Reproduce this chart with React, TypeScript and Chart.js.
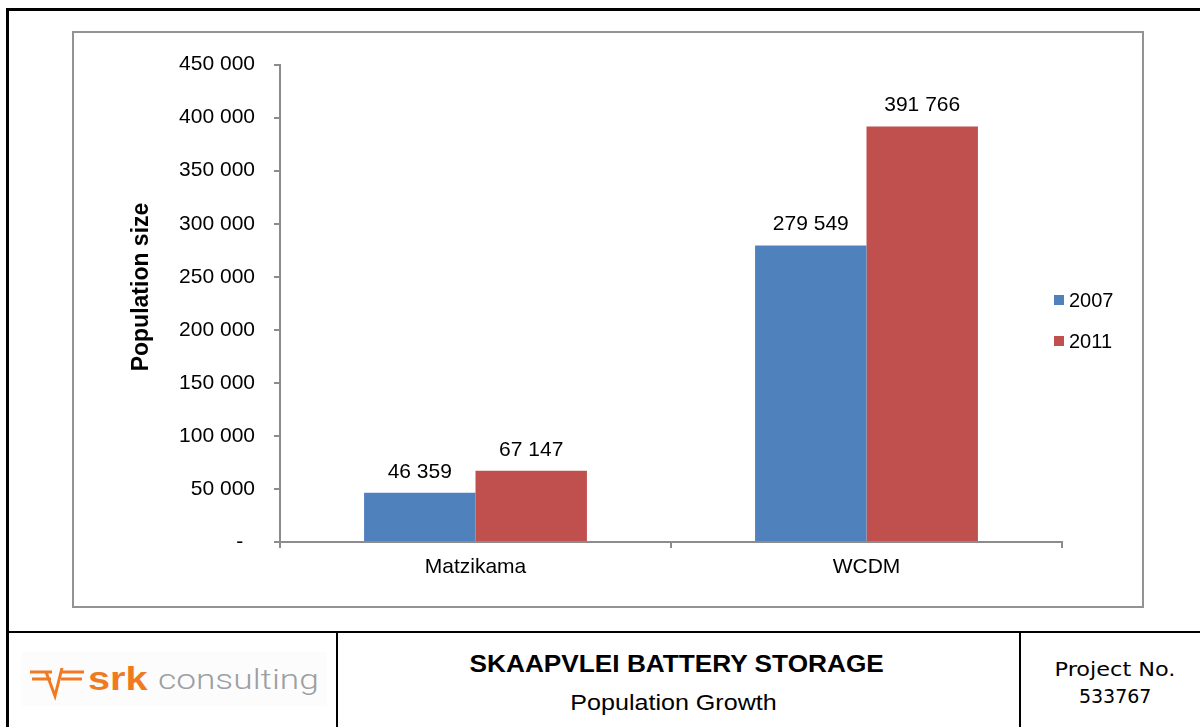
import React, { useEffect, useRef } from 'react';
import { Chart, registerables } from 'chart.js';

Chart.register(...registerables);

// ---- Data ----
const categories = ['Matzikama', 'WCDM'];
const seriesNames = ['2007', '2011'];
const values2007 = [46359, 279549];
const values2011 = [67147, 391766];
const seriesColors = ['#4f81bd', '#c0504d'];
const yMin = 0;
const yMax = 450000;
const yStep = 50000;
const yAxisTitle = 'Population size';
const footerTitle = 'SKAAPVLEI BATTERY STORAGE';
const footerSubtitle = 'Population Growth';
const projectLabel = 'Project No.';
const projectNumber = '533767';

const FONT = '"Liberation Sans", Arial, Helvetica, sans-serif';
const AXIS_COLOR = '#8c8c8c';

const fmt = (v: number) => String(Math.round(v)).replace(/\B(?=(\d{3})+(?!\d))/g, ' ');

const overlayPlugin = {
  id: 'overlay',
  afterDatasetsDraw(chart: any) {
    const ctx = chart.ctx as CanvasRenderingContext2D;
    ctx.save();
    // data labels
    ctx.font = `21px ${FONT}`;
    ctx.fillStyle = '#000';
    ctx.textAlign = 'center';
    ctx.textBaseline = 'alphabetic';
    chart.data.datasets.forEach((ds: any, di: number) => {
      const meta = chart.getDatasetMeta(di);
      meta.data.forEach((bar: any, i: number) => {
        ctx.fillText(fmt(ds.data[i]), bar.x, bar.y - 15);
      });
    });
    // legend
    const area = chart.chartArea;
    const lx = area.right - 8;
    const midY = chart.height / 2;
    ctx.font = `20px ${FONT}`;
    ctx.textAlign = 'left';
    ctx.textBaseline = 'middle';
    chart.data.datasets.forEach((ds: any, di: number) => {
      const top = midY - 24.5 + di * 41;
      ctx.fillStyle = ds.backgroundColor;
      ctx.fillRect(lx, top, 10, 10);
      ctx.fillStyle = '#000';
      ctx.fillText(ds.label, lx + 15, top + 6);
    });
    // y axis title
    ctx.translate(68, 254);
    ctx.rotate(-Math.PI / 2);
    ctx.font = `bold 23px ${FONT}`;
    ctx.textAlign = 'center';
    ctx.textBaseline = 'middle';
    ctx.fillStyle = '#000';
    ctx.fillText(yAxisTitle, 0, 0);
    ctx.restore();
  },
};

function ChartBox() {
  const ref = useRef<HTMLCanvasElement>(null);
  useEffect(() => {
    if (!ref.current) return;
    const chart = new Chart(ref.current, {
      type: 'bar',
      data: {
        labels: categories,
        datasets: [
          { label: seriesNames[0], data: values2007, backgroundColor: seriesColors[0], categoryPercentage: 0.57, barPercentage: 1 },
          { label: seriesNames[1], data: values2011, backgroundColor: seriesColors[1], categoryPercentage: 0.57, barPercentage: 1 },
        ],
      },
      options: {
        animation: false,
        responsive: false,
        maintainAspectRatio: false,
        layout: { padding: { top: 29, right: 80, bottom: 0, left: 0 } },
        plugins: { legend: { display: false }, tooltip: { enabled: false } },
        scales: {
          x: {
            offset: true,
            grid: { offset: true, drawOnChartArea: false, drawTicks: true, tickLength: 6, color: AXIS_COLOR, lineWidth: 2 },
            border: { display: true, color: AXIS_COLOR, width: 2 },
            ticks: { color: '#000', font: { family: FONT, size: 21 }, padding: 7, maxRotation: 0 },
            afterFit: (s: any) => { s.height = 64; },
          },
          y: {
            min: yMin,
            max: yMax,
            grid: { drawOnChartArea: false, drawTicks: true, tickLength: 6, color: AXIS_COLOR, lineWidth: 2 },
            border: { display: true, color: AXIS_COLOR, width: 2 },
            ticks: {
              stepSize: yStep,
              color: '#000',
              font: { family: FONT, size: 21 },
              padding: 19,
              callback: (v: any) => (Number(v) === 0 ? '-  ' : fmt(Number(v))),
            },
            afterFit: (s: any) => { s.width = 206; },
          },
        },
      },
      plugins: [overlayPlugin],
    } as any);
    return () => chart.destroy();
  }, []);
  return (
    <canvas ref={ref} width={1068} height={573} style={{ position: 'absolute', left: 74, top: 33, width: 1068, height: 573 }} />
  );
}

function Logo() {
  return (
    <div style={{ position: 'absolute', left: 22, top: 652, width: 305, height: 54, background: '#fcfcfc' }}>
      <svg width={60} height={40} style={{ position: 'absolute', left: 6, top: 12 }} viewBox="0 0 60 40">
        <g stroke="#f07a22" strokeWidth={3} fill="none" strokeLinecap="butt" strokeLinejoin="miter">
          <line x1={2} y1={8} x2={24} y2={8} />
          <line x1={4} y1={15} x2={23} y2={15} />
          <polyline points="18,8 27,32 34,4" />
          <line x1={32} y1={8} x2={56} y2={8} />
          <line x1={33} y1={15} x2={54} y2={15} />
        </g>
      </svg>
      <div style={{ position: 'absolute', left: 66, top: 10, fontFamily: FONT, fontWeight: 'bold', fontSize: 33, lineHeight: '33px', color: '#f07a22', transform: 'scaleX(1.2)', transformOrigin: 'left top', whiteSpace: 'nowrap' }}>srk</div>
      <div style={{ position: 'absolute', left: 136, top: 14, fontFamily: 'Roboto, "Open Sans", sans-serif', fontWeight: 300, fontSize: 28, lineHeight: '28px', color: '#9d9fa2', transform: 'scaleX(1.26)', transformOrigin: 'left top', whiteSpace: 'nowrap' }}>consulting</div>
    </div>
  );
}

export default function App() {
  return (
    <div style={{ position: 'fixed', left: 0, top: 0, width: 1200, height: 727, background: '#fff', overflow: 'hidden' }}>
      <div style={{ position: 'absolute', left: 6, top: 8, width: 1260, height: 800, borderLeft: '3px solid #000', borderTop: '3px solid #000', boxSizing: 'border-box' }} />
      <div style={{ position: 'absolute', left: 72, top: 31, width: 1072, height: 577, border: '2px solid #939393', boxSizing: 'border-box' }} />
      <ChartBox />
      <div style={{ position: 'absolute', left: 6, top: 631, width: 1200, height: 2, background: '#000' }} />
      <div style={{ position: 'absolute', left: 336, top: 632, width: 2, height: 100, background: '#000' }} />
      <div style={{ position: 'absolute', left: 1019, top: 632, width: 2, height: 100, background: '#000' }} />
      <Logo />
      <div style={{ position: 'absolute', left: 338, width: 681, top: 653, textAlign: 'center', fontFamily: FONT, fontWeight: 'bold', fontSize: 23, lineHeight: '23px', color: '#000', whiteSpace: 'nowrap' }}>
        <span style={{ display: 'inline-block', transform: 'scaleX(1.14)', marginLeft: -4 }}>{footerTitle}</span>
      </div>
      <div style={{ position: 'absolute', left: 338, width: 681, top: 692, textAlign: 'center', fontFamily: FONT, fontSize: 22, lineHeight: '22px', color: '#000', whiteSpace: 'nowrap' }}>
        <span style={{ display: 'inline-block', transform: 'scaleX(1.14)', marginLeft: -10 }}>{footerSubtitle}</span>
      </div>
      <div style={{ position: 'absolute', left: 1021, width: 188, top: 659, textAlign: 'center', fontFamily: '"DejaVu Sans", sans-serif', fontSize: 20, lineHeight: '20px', color: '#000', whiteSpace: 'nowrap' }}>
        <span style={{ display: 'inline-block', transform: 'scaleX(1.12)' }}>{projectLabel}</span>
      </div>
      <div style={{ position: 'absolute', left: 1021, width: 188, top: 686, textAlign: 'center', fontFamily: '"DejaVu Sans", sans-serif', fontSize: 20, lineHeight: '20px', color: '#000', whiteSpace: 'nowrap' }}>
        <span style={{ display: 'inline-block', transform: 'scaleX(0.95)' }}>{projectNumber}</span>
      </div>
    </div>
  );
}
